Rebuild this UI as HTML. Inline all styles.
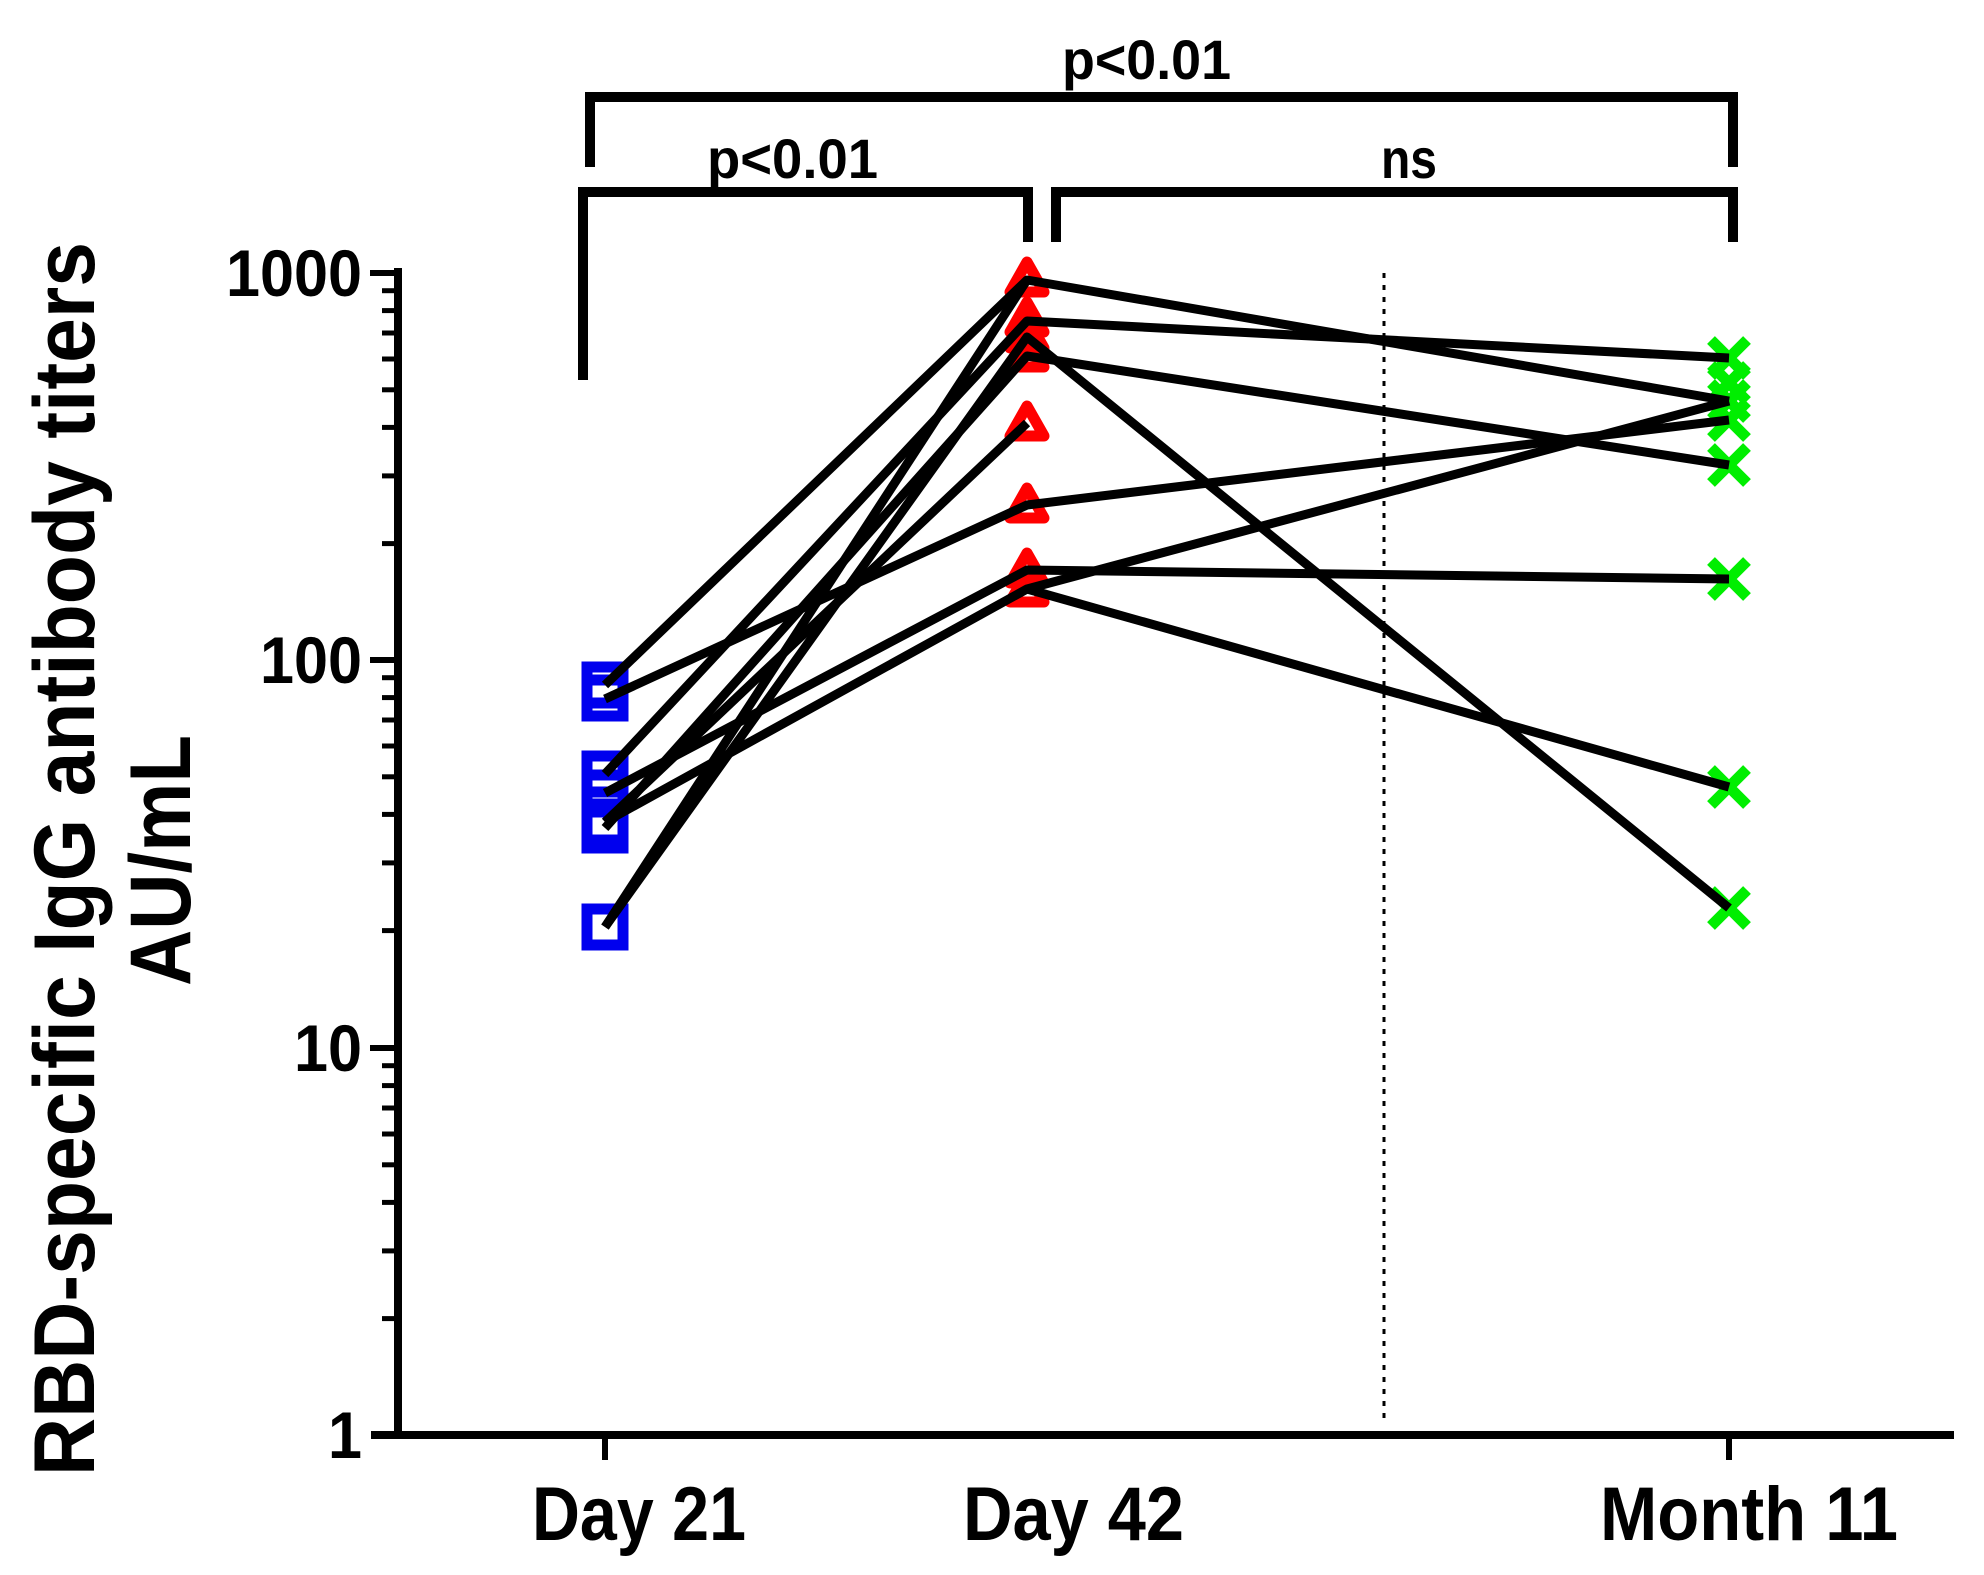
<!DOCTYPE html>
<html><head><meta charset="utf-8"><style>html,body{margin:0;padding:0;background:#fff}svg{display:block}</style></head>
<body>
<svg width="1984" height="1575" viewBox="0 0 1984 1575" xmlns="http://www.w3.org/2000/svg" font-family="Liberation Sans, sans-serif" font-weight="bold">
<rect width="1984" height="1575" fill="#fff"/>
<line x1="398" y1="268" x2="398" y2="1439" stroke="#000" stroke-width="8"/>
<line x1="371" y1="1435" x2="1954" y2="1435" stroke="#000" stroke-width="8"/>
<g stroke="#000" stroke-width="6">
<line x1="370" y1="273" x2="398" y2="273"/><line x1="370" y1="660" x2="398" y2="660"/><line x1="370" y1="1048" x2="398" y2="1048"/>
<line x1="605" y1="1435" x2="605" y2="1460"/><line x1="1729" y1="1435" x2="1729" y2="1460"/>
</g>
<g stroke="#000" stroke-width="5">
<line x1="382" y1="290.7" x2="398" y2="290.7"/><line x1="382" y1="310.6" x2="398" y2="310.6"/><line x1="382" y1="333" x2="398" y2="333"/><line x1="382" y1="359" x2="398" y2="359"/><line x1="382" y1="389.8" x2="398" y2="389.8"/><line x1="382" y1="427.4" x2="398" y2="427.4"/><line x1="382" y1="475.9" x2="398" y2="475.9"/><line x1="382" y1="543.6" x2="398" y2="543.6"/>
<line x1="382" y1="677.7" x2="398" y2="677.7"/><line x1="382" y1="697.6" x2="398" y2="697.6"/><line x1="382" y1="720" x2="398" y2="720"/><line x1="382" y1="746" x2="398" y2="746"/><line x1="382" y1="776.8" x2="398" y2="776.8"/><line x1="382" y1="814.4" x2="398" y2="814.4"/><line x1="382" y1="862.9" x2="398" y2="862.9"/><line x1="382" y1="930.6" x2="398" y2="930.6"/>
<line x1="382" y1="1065.7" x2="398" y2="1065.7"/><line x1="382" y1="1085.6" x2="398" y2="1085.6"/><line x1="382" y1="1108" x2="398" y2="1108"/><line x1="382" y1="1134" x2="398" y2="1134"/><line x1="382" y1="1164.8" x2="398" y2="1164.8"/><line x1="382" y1="1202.4" x2="398" y2="1202.4"/><line x1="382" y1="1250.9" x2="398" y2="1250.9"/><line x1="382" y1="1318.6" x2="398" y2="1318.6"/>
</g>
<g font-size="66" fill="#000">
<text x="226" y="296" textLength="136" lengthAdjust="spacingAndGlyphs">1000</text>
<text x="260" y="683" textLength="102" lengthAdjust="spacingAndGlyphs">100</text>
<text x="294" y="1071" textLength="68" lengthAdjust="spacingAndGlyphs">10</text>
<text x="328" y="1458" textLength="34" lengthAdjust="spacingAndGlyphs">1</text>
</g>
<g font-size="76" fill="#000">
<text x="532" y="1540" textLength="214" lengthAdjust="spacingAndGlyphs">Day 21</text>
<text x="963" y="1540" textLength="221" lengthAdjust="spacingAndGlyphs">Day 42</text>
<text x="1600" y="1540" textLength="298" lengthAdjust="spacingAndGlyphs">Month 11</text>
</g>
<g font-size="86" fill="#000">
<text transform="translate(94,1476) rotate(-90)" textLength="1234" lengthAdjust="spacingAndGlyphs">RBD-specific IgG antibody titers</text>
<text transform="translate(190,986) rotate(-90)" textLength="251" lengthAdjust="spacingAndGlyphs">AU/mL</text>
</g>
<line x1="1384" y1="273" x2="1384" y2="1425" stroke="#000" stroke-width="3" stroke-dasharray="5,7"/>
<g fill="none" stroke="#000" stroke-width="10">
<polyline points="590,167 590,97 1733,97 1733,167"/>
<polyline points="583,380 583,192 1028,192 1028,242"/>
<polyline points="1056,242 1056,192 1733,192 1733,242"/>
</g>
<g font-size="56" fill="#000">
<text x="1062" y="79" textLength="169" lengthAdjust="spacingAndGlyphs">p&lt;0.01</text>
<text x="707" y="178" textLength="171" lengthAdjust="spacingAndGlyphs">p&lt;0.01</text>
<text x="1381" y="178" textLength="56" lengthAdjust="spacingAndGlyphs">ns</text>
</g>
<g fill="none" stroke="#0000ee" stroke-width="11">
<rect x="587" y="667" width="36" height="36"/><rect x="587" y="680" width="36" height="36"/>
<rect x="587" y="756" width="36" height="36"/><rect x="587" y="775" width="36" height="36"/>
<rect x="587" y="804" width="36" height="36"/><rect x="587" y="812" width="36" height="36"/>
<rect x="587" y="909" width="36" height="36"/>
</g>
<g fill="none" stroke="#ff0000" stroke-width="11" stroke-linejoin="round">
<path d="M1027,262 l-17,30 h34 z"/><path d="M1027,302 l-17,30 h34 z"/><path d="M1027,318 l-17,30 h34 z"/><path d="M1027,337 l-17,30 h34 z"/>
<path d="M1027,406 l-17,30 h34 z"/><path d="M1027,488 l-17,30 h34 z"/><path d="M1027,553 l-17,30 h34 z"/><path d="M1027,572 l-17,30 h34 z"/>
</g>
<g stroke="#00ee00" stroke-width="11">
<path d="M1711,340 l36,36 M1747,340 l-36,36"/><path d="M1711,365 l36,36 M1747,365 l-36,36"/>
<path d="M1711,383 l36,36 M1747,383 l-36,36"/><path d="M1711,402 l36,36 M1747,402 l-36,36"/>
<path d="M1711,447 l36,36 M1747,447 l-36,36"/><path d="M1711,561 l36,36 M1747,561 l-36,36"/>
<path d="M1711,769 l36,36 M1747,769 l-36,36"/><path d="M1711,890 l36,36 M1747,890 l-36,36"/>
</g>
<g fill="none" stroke="#000" stroke-width="9" stroke-linejoin="round">
<polyline points="605,685 1027,280 1729,401"/>
<polyline points="605,699 1027,505 1729,420"/>
<polyline points="605,774 1027,321 1729,358"/>
<polyline points="605,793 1027,570 1729,579"/>
<polyline points="605,822 1027,589 1729,401"/>
<polyline points="605,828 1027,356 1729,465"/>
<polyline points="605,927 1027,337 1729,908"/>
<polyline points="605,927 1027,280"/>
<polyline points="605,822 1027,423"/>
<polyline points="1027,589 1729,787"/>
</g>
</svg>
</body></html>
